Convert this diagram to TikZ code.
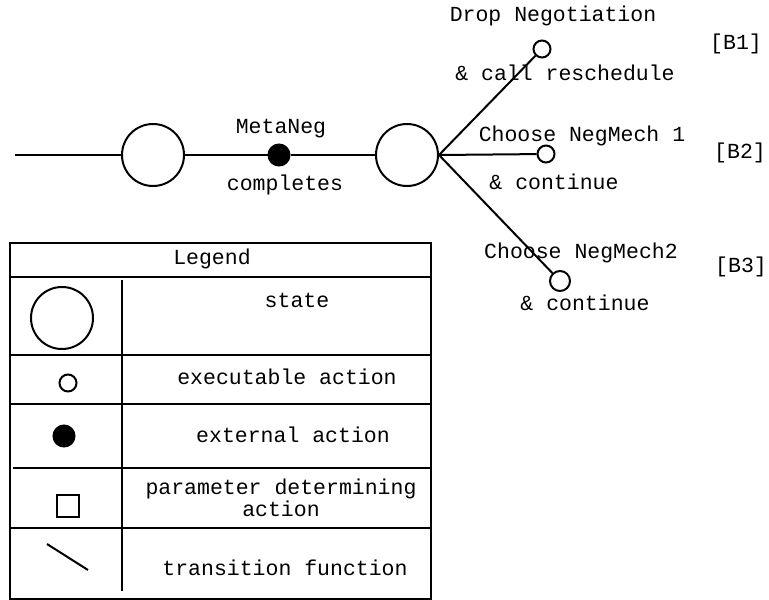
\documentclass[tikz,border=0pt]{standalone}
\usepackage{fontspec}
\setmonofont{Liberation Mono}
\begin{document}
\begin{tikzpicture}[x=1pt,y=-1pt,
  every node/.style={inner sep=0pt},
  lbl/.style={font=\ttfamily\fontsize{21.5}{22}\selectfont, text=black},
  ln/.style={line width=2pt, draw=black},
  statecirc/.style={circle, ln, minimum size=62pt, fill=white},
  execcirc/.style={circle, ln, minimum size=17pt, fill=white},
  extcirc/.style={circle, ln, fill=black, minimum size=21pt},
  paramsq/.style={rectangle, ln, minimum size=22pt}]
\useasboundingbox (0,0) rectangle (769,600);
% main chain
\coordinate (start) at (15,155);
\node[statecirc] (s1) at (153,155) {};
\node[extcirc] (m) at (279,155) {};
\node[statecirc] (s2) at (407,155) {};
\node[execcirc] (b1) at (542,49) {};
\node[execcirc] (b2) at (546,154) {};
\node[execcirc, minimum size=20pt] (b3) at (560,281) {};
\draw[ln] (start) -- (s1.west);
\draw[ln] (s1.east) -- (m.west);
\draw[ln] (m.east) -- (s2.west);
\draw[ln] (s2.east) -- (b1);
\draw[ln] (s2.east) -- (b2);
\draw[ln] (s2.east) -- (b3);
% labels
\node[lbl] (tmeta) at (281,129) {MetaNeg};
\node[lbl] (tcomp) at (285,185) {completes};
\node[lbl] (td1) at (553,16) {Drop Negotiation};
\node[lbl] (td2) at (565,73) {\&\ call reschedule};
\node[lbl] (tc1) at (582,136) {Choose NegMech 1};
\node[lbl] (tc2) at (554,182) {\&\ continue};
\node[lbl] (tn1) at (581,253) {Choose NegMech2};
\node[lbl] (tn2) at (585,303) {\&\ continue};
\node[lbl] (tb1) at (736,44) {[B1]};
\node[lbl] (tb2) at (740,153) {[B2]};
\node[lbl] (tb3) at (741,267) {[B3]};
% legend
\draw[ln] (9.5,243) rectangle (430.5,599);
\draw[ln] (9.5,277) -- (430.5,277);
\draw[ln] (122,280) -- (122,591);
\draw[ln] (9.5,355) -- (430.5,355);
\draw[ln] (9.5,404) -- (430.5,404);
\draw[ln] (12.5,468) -- (430.5,468);
\draw[ln] (9.5,528) -- (430.5,528);
\node[lbl] (tleg) at (212,259) {Legend};
\node[statecirc] (ls) at (62,318) {};
\node[lbl] (tstate) at (297,300) {state};
\node[execcirc] (le) at (68,383) {};
\node[lbl] (texec) at (287,377) {executable action};
\node[extcirc] (lx) at (64,436) {};
\node[lbl] (text) at (293,435) {external action};
\node[paramsq] (lp) at (68,506) {};
\node[lbl, align=center] (tparam) at (281,498) {parameter determining\\action};
\coordinate (lt1) at (47,544);
\coordinate (lt2) at (88,570);
\draw[ln] (lt1) -- (lt2);
\node[lbl] (ttrans) at (285,568) {transition function};
\end{tikzpicture}
\end{document}
